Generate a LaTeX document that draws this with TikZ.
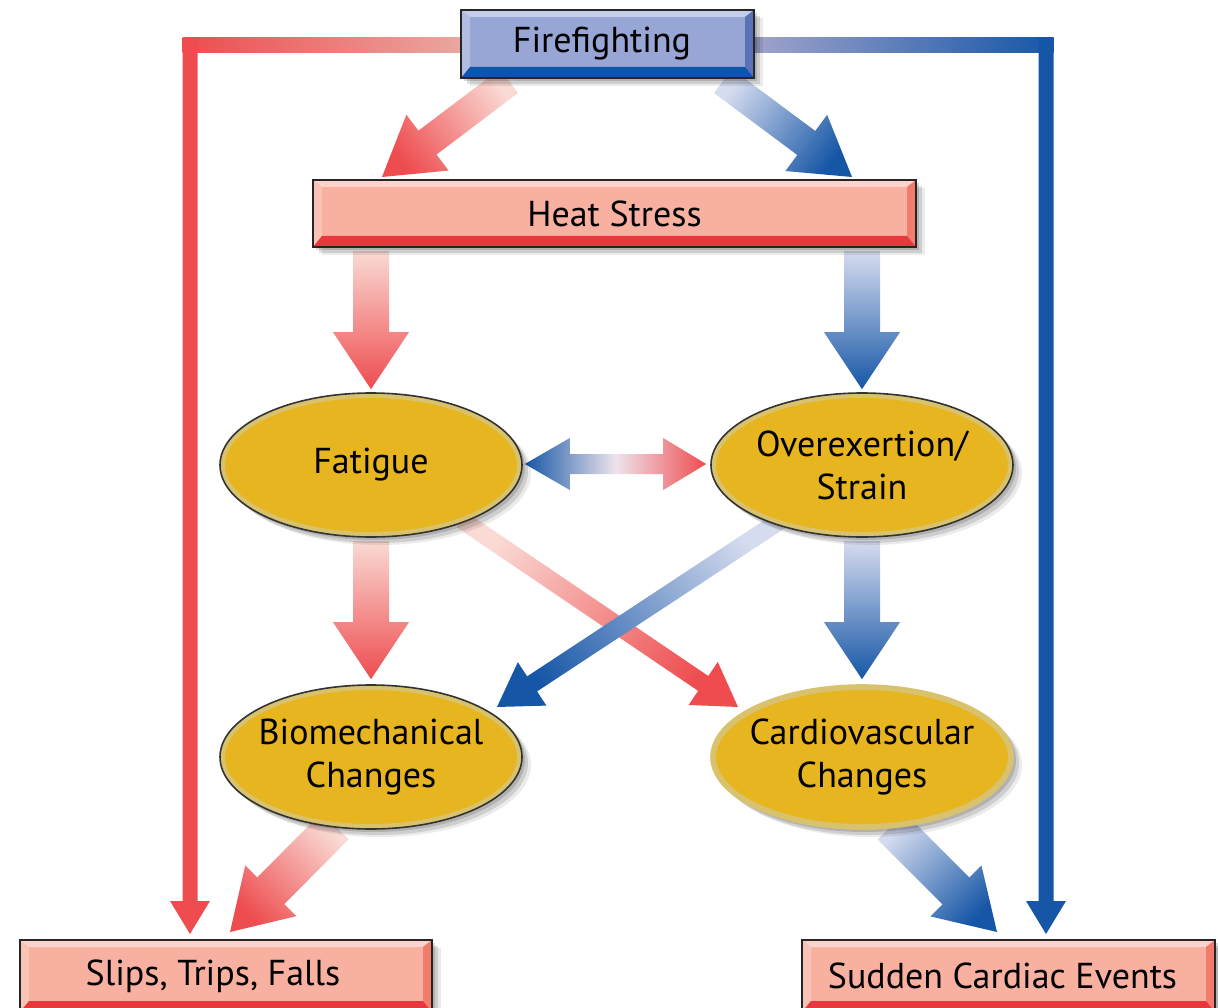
\documentclass[tikz,border=0pt]{standalone}
\usepackage{fontspec}
\setmainfont{PT Sans}
\usetikzlibrary{shapes.geometric,shadows,calc}
\pgfdeclarelayer{bg}
\pgfsetlayers{bg,main}
\definecolor{cred}{HTML}{EE4C4F}
\definecolor{credl}{HTML}{FADAD4}
\definecolor{cblue}{HTML}{1656A6}
\definecolor{cbluel}{HTML}{D6DCEF}
\definecolor{thinredl}{HTML}{E9A79F}
\definecolor{thinbluel}{HTML}{9EA3CB}
\definecolor{pface}{HTML}{F8B0A0}
\definecolor{ptop}{HTML}{FCD4CB}
\definecolor{pleft}{HTML}{F9C3B6}
\definecolor{pright}{HTML}{F27C6C}
\definecolor{pbot}{HTML}{E8383E}
\definecolor{bface}{HTML}{98A6D6}
\definecolor{btop}{HTML}{C6CDEA}
\definecolor{bleft}{HTML}{B3BDE2}
\definecolor{bright}{HTML}{5B72B8}
\definecolor{bbot}{HTML}{0B56A8}
\definecolor{cgold}{HTML}{E6B51F}
\definecolor{cring}{HTML}{D9C26E}
\definecolor{cmid}{RGB}{238,228,236}

\newcommand\fatarrow[7]{%
  \path let \p1=(#1), \p2=(#2) in \pgfextra{%
    \pgfmathsetmacro\faang{atan2(\y2-\y1,\x2-\x1)}%
    \pgfmathsetmacro\falen{veclen(\x2-\x1,\y2-\y1)}%
    \global\let\faang\faang\global\let\falen\falen};%
  \pgfmathsetmacro\fash{\faang-90}%
  \begin{scope}[shift={(#1)},rotate=\faang]
    \shade[top color=#7,bottom color=#6,shading angle=\fash]
      (0,-#3) -- (\falen-#5,-#3) -- (\falen-#5,-#4) -- (\falen,0) -- (\falen-#5,#4) -- (\falen-#5,#3) -- (0,#3) -- cycle;
  \end{scope}}

\tikzset{
  txt/.style={font=\fontsize{36}{43}\selectfont},
  softshadow/.style={
    drop shadow={shadow xshift=3pt,shadow yshift=-3pt,opacity=.14,fill=black},
    drop shadow={shadow xshift=6pt,shadow yshift=-6pt,opacity=.12,fill=black},
    drop shadow={shadow xshift=9pt,shadow yshift=-8pt,opacity=.08,fill=black}},
  bevel/.style n args={5}{rectangle, fill=#1, draw=black!85, line width=2pt, inner sep=0pt, txt, softshadow,
    path picture={
      \path (path picture bounding box.north west) coordinate (Bnw)
            (path picture bounding box.north east) coordinate (Bne)
            (path picture bounding box.south west) coordinate (Bsw)
            (path picture bounding box.south east) coordinate (Bse);
      \fill[#2] (Bnw) -- (Bne) -- ($(Bne)+(-9,-7)$) -- ($(Bnw)+(9,-7)$) -- cycle;
      \fill[#3] (Bnw) -- ($(Bnw)+(9,-7)$) -- ($(Bsw)+(9,11)$) -- (Bsw) -- cycle;
      \fill[#4] (Bne) -- ($(Bne)+(-9,-7)$) -- ($(Bse)+(-9,11)$) -- (Bse) -- cycle;
      \fill[#5] (Bsw) -- ($(Bsw)+(9,11)$) -- ($(Bse)+(-9,11)$) -- (Bse) -- cycle;
    }},
  pinkbox/.style={bevel={pface}{ptop}{pleft}{pright}{pbot}},
  bluebox/.style={bevel={bface}{btop}{bleft}{bright}{bbot}},
  goldell/.style={ellipse, fill=cgold, draw=#1, line width=1.6pt, minimum width=302pt, minimum height=144pt,
    inner xsep=-40pt, inner ysep=0pt, align=center, txt, softshadow,
    path picture={\draw[cring,line width=10pt] (path picture bounding box.center) ellipse [x radius=151, y radius=72];}},
  goldell/.default={black!80}
}

\begin{document}
\begin{tikzpicture}[x=1pt,y=1pt]
\useasboundingbox (0,0) rectangle (1218,-1008);

% nodes
\node[bluebox, minimum width=293, minimum height=68] (fire) at (607.5,-44) {\hspace*{-11pt}Firefighting};
\node[pinkbox, minimum width=603, minimum height=67] (heat) at (614.5,-213.5) {Heat Stress};
\node[goldell] (fat) at (371,-465) {\raisebox{-3pt}{Fatigue}};
\node[goldell] (over) at (862,-465) {\raisebox{-3pt}{Overexertion/}\\\raisebox{-3pt}{Strain}};
\node[goldell] (bio) at (371,-757) {\raisebox{-3pt}{Biomechanical}\\\raisebox{-3pt}{Changes}};
\node[goldell=cring] (cardio) at (862,-757) {\raisebox{-3pt}{Cardiovascular}\\\raisebox{-3pt}{Changes}};
\node[pinkbox, minimum width=412, minimum height=72] (slips) at (226,-976) {\hspace*{-26pt}Slips, Trips, Falls};
\node[pinkbox, minimum width=413, minimum height=72] (sudden) at (1008.5,-976) {\hspace*{-12pt}Sudden Cardiac Events};

% connector end points
\coordinate (rc) at ($(slips.north |- fire.west)+(-36,-1.5)$);
\coordinate (rcv) at ($(rc)+(0,7.5)$);
\coordinate (rtip) at ($(slips.north)+(-36,5)$);
\coordinate (bc) at ($(sudden.north |- fire.east)+(37.5,-1.5)$);
\coordinate (bcv) at ($(bc)+(0,7.5)$);
\coordinate (btip) at ($(sudden.north)+(37.5,5)$);

\coordinate (f1s) at ($(fire.south)+(-98.5,-2)$);
\coordinate (f1t) at ($(heat.north)+(-232.5,2)$);
\coordinate (f2s) at ($(fire.south)+(115.5,-2)$);
\coordinate (f2t) at ($(heat.north)+(237.5,2)$);

\coordinate (h1s) at ($(fat.north |- heat.south)+(0,-3)$);
\coordinate (h1t) at ($(fat.north)+(0,3)$);
\coordinate (h2s) at ($(over.north |- heat.south)+(0,-3)$);
\coordinate (h2t) at ($(over.north)+(0,3)$);

\coordinate (v1s) at ($(fat.south)+(0,-3)$);
\coordinate (v1t) at ($(bio.north)+(0,5)$);
\coordinate (v2s) at ($(over.south)+(0,-3)$);
\coordinate (v2t) at ($(cardio.north)+(0,5)$);

\coordinate (d1s) at ($(fat.center)+(91,-55)$);
\coordinate (d1t) at ($(cardio.center)+(-124,50)$);
\coordinate (d2s) at ($(over.center)+(-81,-55)$);
\coordinate (d2t) at ($(bio.center)+(126,50)$);

\coordinate (b1s) at ($(bio.center)+(-36,-69)$);
\coordinate (b1t) at ($(slips.north)+(4,7)$);
\coordinate (b2s) at ($(cardio.center)+(29,-69)$);
\coordinate (b2t) at ($(sudden.north)+(-11.5,7)$);

\coordinate (dl) at ($(fat.east)+(2,1)$);
\coordinate (dr) at ($(over.west)+(-4,1)$);

\begin{pgfonlayer}{bg}
  % thin side connectors
  \shade[left color=cred, right color=thinredl] ($(rc)+(-7.5,7.5)$) rectangle ($(fire.west |- rc)+(0,-7.5)$);
  \fatarrow{rcv}{rtip}{7.5}{20}{33}{cred}{cred}
  \shade[left color=thinbluel, right color=cblue] ($(fire.east |- bc)+(0,7.5)$) rectangle ($(bc)+(7.5,-7.5)$);
  \fatarrow{bcv}{btip}{7.5}{20}{33}{cblue}{cblue}
  % firefighting -> heat stress
  \fatarrow{f1s}{f1t}{15}{35}{57}{credl}{cred}
  \fatarrow{f2s}{f2t}{15}{35}{57}{cbluel}{cblue}
  % heat stress -> fatigue / overexertion
  \fatarrow{h1s}{h1t}{18}{38}{57}{credl}{cred}
  \fatarrow{h2s}{h2t}{18}{38}{57}{cbluel}{cblue}
  % fatigue -> biomechanical, overexertion -> cardiovascular
  \fatarrow{v1s}{v1t}{18}{38}{57}{credl}{cred}
  \fatarrow{v2s}{v2t}{18}{38}{57}{cbluel}{cblue}
  % crossing diagonals
  \fatarrow{d1s}{d1t}{9}{26}{42}{credl}{cred}
  \fatarrow{d2s}{d2t}{9}{26}{42}{cbluel}{cblue}
  % bottom
  \fatarrow{b1s}{b1t}{19}{36}{58}{credl}{cred}
  \fatarrow{b2s}{b2t}{19}{36}{58}{cbluel}{cblue}
  % double arrow
  \shade[left color=cblue, right color=cred, middle color=cmid]
    (dl) -- ++(45,26) -- ++(0,-16) -- ($(dr)+(-43,10)$) -- ++(0,16) -- (dr)
    -- ++(-43,-26) -- ++(0,16) -- ($(dl)+(45,-10)$) -- ++(0,-16) -- cycle;
\end{pgfonlayer}
\end{tikzpicture}
\end{document}
